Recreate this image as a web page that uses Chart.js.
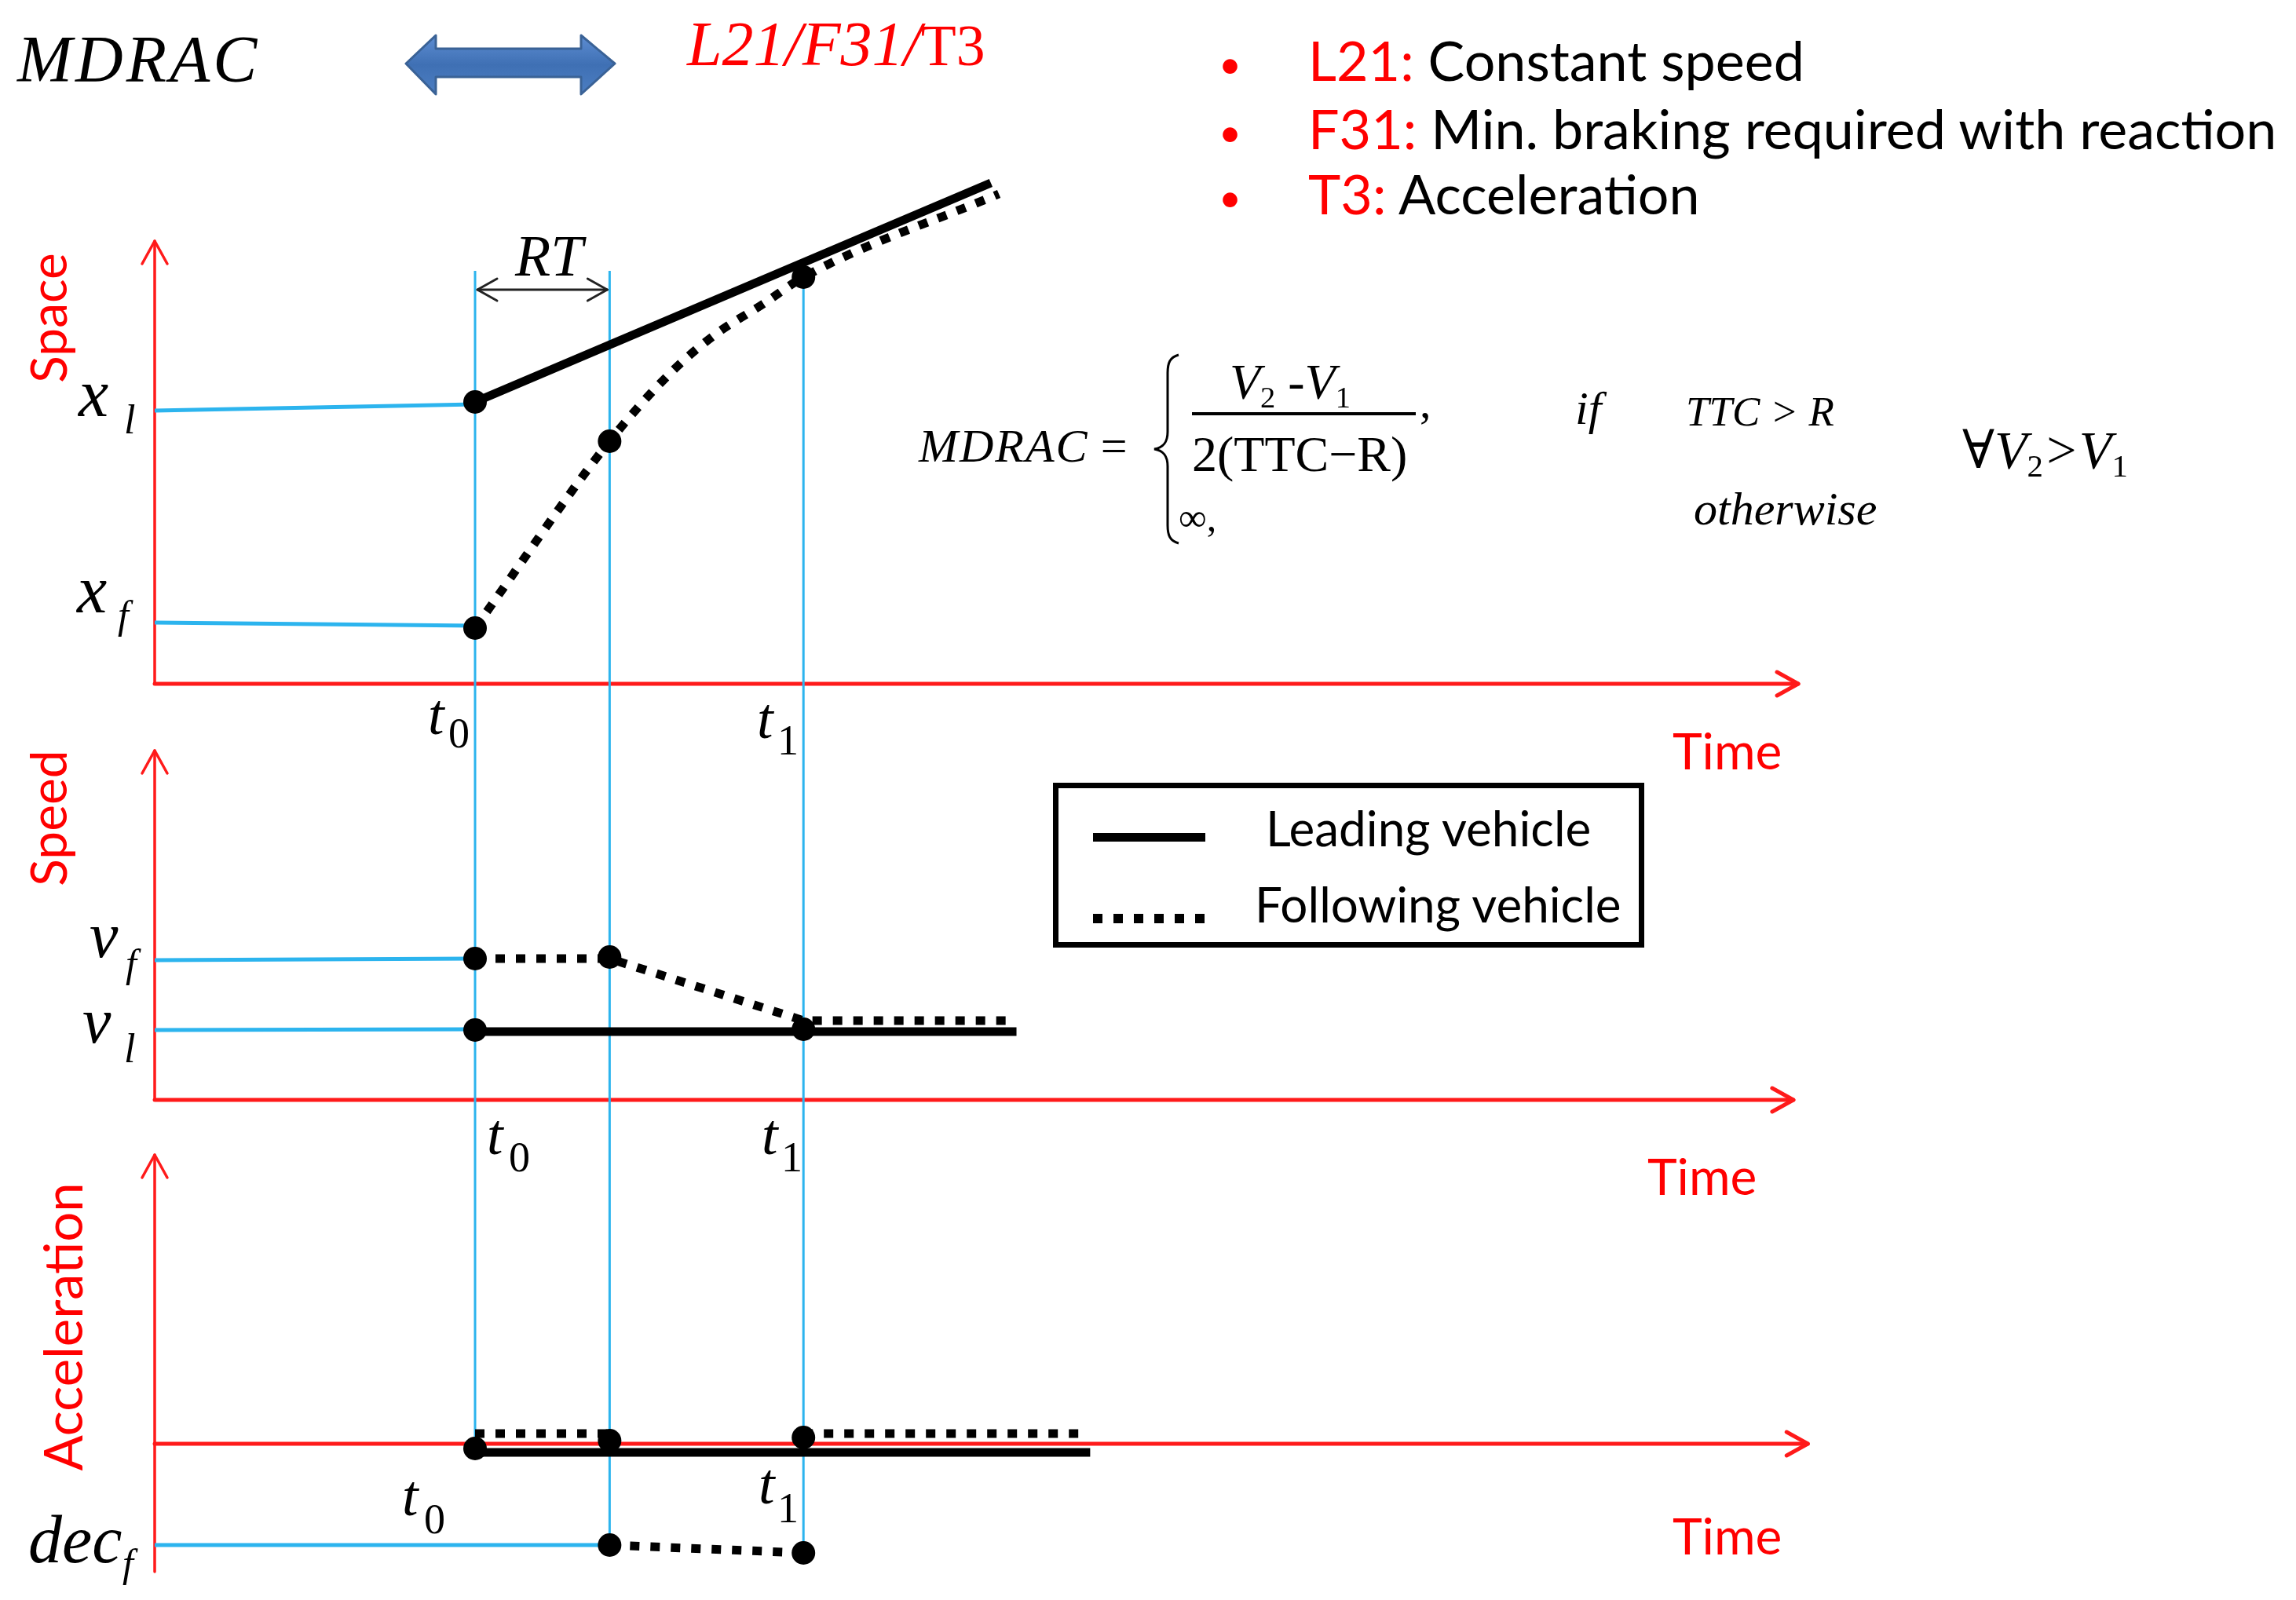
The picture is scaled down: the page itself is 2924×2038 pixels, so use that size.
<!DOCTYPE html>
<html lang="en">
<head>
<meta charset="UTF-8" />
<title>MDRAC - L21/F31/T3</title>
<script src="https://cdn.jsdelivr.net/npm/chart.js"></script>
<style>
  html, body { margin: 0; padding: 0; background: #fff; }
  #wrap { position: relative; width: 2924px; height: 2038px; overflow: hidden; }
  #chart { position: absolute; left: 0; top: 0; }
  #over { position: absolute; left: 0; top: 0; pointer-events: none; }
  .lbl { position: absolute; white-space: nowrap; line-height: 1; color: #000; }
  .probe { display: inline-block; width: 0; height: 0; }
  .m { font-family: 'Liberation Serif', 'DejaVu Serif', serif; font-style: italic; }
  .up { font-style: normal; }
  .s { font-family: Lato, 'Open Sans', sans-serif; }
  .red { color: #ff0000; }
  .sub { font-size: 0.6em; font-style: normal; vertical-align: -0.28em; }
  .rot { position: absolute; transform: translate(-50%, -50%) rotate(-90deg); white-space: nowrap;
         line-height: 1; font-family: Lato, 'Open Sans', sans-serif; color: #ff0000; }
  #legend { position: absolute; left: 1341px; top: 997px; width: 753px; height: 210px;
            box-sizing: border-box; border: 7px solid #000; }
  .sample { position: absolute; left: 1392px; width: 143px; }
</style>
</head>
<body>
<div id="wrap">
  <canvas id="chart" width="2924" height="2038"></canvas>
  <svg id="over" width="2924" height="2038">
    <defs>
      <linearGradient id="blue" x1="0" y1="0" x2="0" y2="1">
        <stop offset="0" stop-color="#5d8dd2" />
        <stop offset="0.5" stop-color="#3f70b4" />
        <stop offset="1" stop-color="#4c7ec2" />
      </linearGradient>
    </defs>
    <polygon points="517,81 555,45 555,62 740,62 740,45 783,81 740,120 740,98 555,98 555,120"
             fill="url(#blue)" stroke="#3a6296" stroke-width="3" stroke-linejoin="round" />
    <path d="M1501,452 C1490,455 1487,462 1487,475 L1487,550 C1487,563 1482,570 1470,572
             C1482,574 1487,581 1487,594 L1487,669 C1487,682 1490,689 1501,692"
          fill="none" stroke="#000" stroke-width="3" />
    <rect x="1518" y="525" width="285" height="4" fill="#000" />
  </svg>
  <div id="legend"></div>
  <div class="sample" style="top:1061px;height:11px;background:#000;"></div>
  <div class="sample" style="top:1164px;height:12px;background:repeating-linear-gradient(90deg,#000 0 12px,transparent 12px 26px);"></div>
</div>

<script>
  // event times (s): reaction starts at T0, braking starts at TR, speeds equal at T1
  const T0 = 2.0, TR = 2.84, T1 = 4.05;

  // space panel
  const spaceLeadT = [T0, 5.22];
  const spaceLeadX = [35.9, 63.8];
  const spaceFollowT = [T0, TR, 3.23, 3.50, 3.80, T1, 5.27];
  const spaceFollowX = [7.1, 30.9, 39.8, 44.5, 48.4, 51.8, 62.4];
  const spaceDotT = [T0, T0, TR, T1];
  const spaceDotX = [35.9, 7.1, 30.9, 51.8];

  // speed panel
  const speedLeadT = [T0, 5.38];
  const speedLeadV = [8.7, 8.7];
  const speedFollowT = [T0, TR, T1, 5.37];
  const speedFollowV = [18.0, 18.0, 10.1, 10.1];
  const speedDotT = [T0, TR, T0, T1];
  const speedDotV = [18.0, 18.2, 8.9, 9.0];

  // acceleration panel (null = break in the line)
  const accLeadT = [T0, 5.84];
  const accLeadA = [-1.1, -1.1];
  const accFollowT = [T0, TR, TR, TR, T1, T1, T1, 5.80];
  const accFollowA = [1.3, 1.3, null, -12.9, -13.9, null, 1.3, 1.3];
  const accDotT = [T0, TR, T1, TR, T1];
  const accDotA = [-0.6, 0.4, 0.8, -12.9, -13.9];

  // cyan reference levels: x_l, x_f / v_f, v_l / dec_f  (value at t=0, value at end, end time)
  const spaceRefs = [[34.8, 35.6, T0], [7.8, 7.4, T0]];
  const speedRefs = [[17.8, 18.0, T0], [8.9, 9.0, T0]];
  const accRefs = [[-12.9, -12.9, TR]];

  // vertical guides: time, top (space units), bottom (acceleration units)
  const guides = [[T0, 52.6, -0.6], [TR, 52.6, -12.9], [T1, 51.8, -13.9]];

  // ---- layout of the single canvas ----
  const W = 2924, H = 2038;
  const UNIT = 10;                     // px per value unit, all panels
  const X0 = 197, XU = 204;            // px of t=0, px per second
  const zero = { ySpace: 871, ySpeed: 1401, yAcc: 1839 };
  const yScale = id => ({ type: 'linear', display: false, position: 'left',
                          min: -(H - zero[id]) / UNIT, max: zero[id] / UNIT });

  const panels = [
    { y: 'ySpace', tip: 56.4, base: 0, tEnd: 10.26 },
    { y: 'ySpeed', tip: 44.5, base: 0, tEnd: 10.23 },
    { y: 'yAcc', tip: 36.8, base: -16.3, tEnd: 10.32 }
  ];

  const RED = '#ff1a1a', CYAN = '#2cb4ee';

  const pts = (ts, vs) => ts.map((t, i) => ({ x: t, y: vs[i] }));
  const solid = (ts, vs, y) => ({ data: pts(ts, vs), yAxisID: y, borderColor: '#000', borderWidth: 11,
                                  pointRadius: 0, order: 1 });
  const dotted = (ts, vs, y) => ({ data: pts(ts, vs), yAxisID: y, borderColor: '#000', borderWidth: 11,
                                   borderDash: [12, 14], borderCapStyle: 'butt', pointRadius: 0, order: 1 });
  const dots = (ts, vs, y) => ({ data: pts(ts, vs), yAxisID: y, showLine: false, pointRadius: 15,
                                 pointBackgroundColor: '#000', pointBorderWidth: 0, order: 0 });
  const refs = (list, y) => list.map(r => ({ data: [{ x: 0, y: r[0] }, { x: r[2], y: r[1] }], yAxisID: y,
                                            borderColor: CYAN, borderWidth: 5, pointRadius: 0, order: 2 }));

  const spaceFollow = dotted(spaceFollowT, spaceFollowX, 'ySpace');
  spaceFollow.cubicInterpolationMode = 'monotone';

  function chevron(ctx, x, y, dx, dy, back, spread) {
    // open arrow head at (x,y) pointing along (dx,dy)
    const nx = -dy, ny = dx;
    ctx.beginPath();
    ctx.moveTo(x - dx * back + nx * spread, y - dy * back + ny * spread);
    ctx.lineTo(x, y);
    ctx.lineTo(x - dx * back - nx * spread, y - dy * back - ny * spread);
    ctx.stroke();
  }

  const diagram = {
    id: 'diagram',
    beforeDatasetsDraw(chart) {
      const { ctx, scales } = chart;
      const sx = scales.x;
      ctx.save();
      ctx.lineCap = 'round';
      ctx.lineJoin = 'round';
      ctx.strokeStyle = RED;
      panels.forEach(p => {
        const sy = scales[p.y];
        const x0 = sx.getPixelForValue(0);
        const yb = sy.getPixelForValue(p.base), yt = sy.getPixelForValue(p.tip);
        const yz = sy.getPixelForValue(0), xe = sx.getPixelForValue(p.tEnd);
        ctx.lineWidth = 3.5;
        ctx.beginPath(); ctx.moveTo(x0, yb); ctx.lineTo(x0, yt); ctx.stroke();
        chevron(ctx, x0, yt, 0, -1, 29, 16);
        ctx.lineWidth = 5;
        ctx.beginPath(); ctx.moveTo(x0, yz); ctx.lineTo(xe, yz); ctx.stroke();
        chevron(ctx, xe, yz, 1, 0, 27, 15);
      });
      ctx.strokeStyle = CYAN;
      ctx.lineWidth = 3;
      ctx.lineCap = 'butt';
      guides.forEach(g => {
        const px = sx.getPixelForValue(g[0]);
        ctx.beginPath();
        ctx.moveTo(px, scales.ySpace.getPixelForValue(g[1]));
        ctx.lineTo(px, scales.yAcc.getPixelForValue(g[2]));
        ctx.stroke();
      });
      // RT double arrow
      const yr = scales.ySpace.getPixelForValue(50.2);
      const xa = sx.getPixelForValue(T0) + 3, xb = sx.getPixelForValue(TR) - 3;
      ctx.strokeStyle = '#222';
      ctx.lineWidth = 3;
      ctx.lineCap = 'round';
      ctx.beginPath(); ctx.moveTo(xa, yr); ctx.lineTo(xb, yr); ctx.stroke();
      chevron(ctx, xa, yr, -1, 0, 25, 14);
      chevron(ctx, xb, yr, 1, 0, 25, 14);
      ctx.restore();
    }
  };

  new Chart(document.getElementById('chart'), {
    type: 'line',
    data: {
      datasets: [
        dots(spaceDotT, spaceDotX, 'ySpace'),
        dots(speedDotT, speedDotV, 'ySpeed'),
        dots(accDotT, accDotA, 'yAcc'),
        solid(spaceLeadT, spaceLeadX, 'ySpace'),
        spaceFollow,
        solid(speedLeadT, speedLeadV, 'ySpeed'),
        dotted(speedFollowT, speedFollowV, 'ySpeed'),
        solid(accLeadT, accLeadA, 'yAcc'),
        dotted(accFollowT, accFollowA, 'yAcc'),
        ...refs(spaceRefs, 'ySpace'),
        ...refs(speedRefs, 'ySpeed'),
        ...refs(accRefs, 'yAcc')
      ]
    },
    options: {
      responsive: false,
      animation: false,
      events: [],
      spanGaps: false,
      layout: { padding: 0, autoPadding: false },
      plugins: { legend: { display: false }, tooltip: { enabled: false } },
      scales: {
        x: { type: 'linear', display: false, min: -X0 / XU, max: (W - X0) / XU },
        ySpace: yScale('ySpace'),
        ySpeed: yScale('ySpeed'),
        yAcc: yScale('yAcc')
      }
    },
    plugins: [diagram]
  });

  // ---- text, placed by baseline ----
  const wrap = document.getElementById('wrap');
  function put(html, left, base, cls, size) {
    const el = document.createElement('div');
    el.className = 'lbl ' + cls;
    el.style.fontSize = size + 'px';
    el.style.left = left + 'px';
    el.style.top = '0px';
    el.innerHTML = html + '<i class="probe"></i>';
    wrap.appendChild(el);
    el.style.top = (base - el.querySelector('.probe').offsetTop) + 'px';
  }
  function rot(text, cx, cy, size) {
    const el = document.createElement('div');
    el.className = 'rot';
    el.style.fontSize = size + 'px';
    el.style.left = cx + 'px';
    el.style.top = cy + 'px';
    el.textContent = text;
    wrap.appendChild(el);
  }

  const texts = [
    ['<span style="letter-spacing:4px">MDRAC</span>', 22, 104, 'm', 84],
    ['L21/F31/<span class="up" style="font-size:0.92em">T3</span>', 875, 83, 'm red', 80],
    ['<span class="red">L21:</span> Constant speed', 1666, 103, 's', 70],
    ['<span class="red">F31:</span> Min. braking required with reaction', 1666, 190, 's', 70],
    ['<span class="red">T3:</span> Acceleration', 1666, 273, 's', 70],
    ['•', 1552, 100, 's red', 50],
    ['•', 1552, 187, 's red', 50],
    ['•', 1552, 270, 's red', 50],
    // formula
    ['<span style="letter-spacing:2px">MDRAC</span>&nbsp;<span class="up">=</span>', 1170, 588, 'm', 60],
    ['V<span class="sub">2</span>&nbsp;<span class="up">-</span>V<span class="sub">1</span>', 1566, 508, 'm', 64],
    ['2(TTC−R)', 1518, 600, 'm up', 64],
    [',', 1808, 532, 'm up', 58],
    ['if', 2006, 540, 'm', 60],
    ['TTC &gt; R', 2147, 542, 'm', 53],
    ['∞,', 1501, 676, 'm up', 50],
    ['otherwise', 2157, 668, 'm', 60],
    ['∀V<span class="sub">2</span>&gt;V<span class="sub">1</span>', 2499, 596, 'm', 68],
    // panel labels
    ['RT', 656, 351, 'm', 74],
    ['x', 100, 530, 'm', 86], ['l', 158, 552, 'm', 52],
    ['x', 98, 780, 'm', 86], ['f', 150, 800, 'm', 50],
    ['v', 114, 1219, 'm', 82], ['f', 160, 1244, 'm', 50],
    ['v', 105, 1328, 'm', 82], ['l', 158, 1353, 'm', 52],
    ['dec', 36, 1990, 'm', 86], ['f', 156, 2008, 'm', 50],
    ['t', 545, 935, 'm', 74], ['0', 571, 952, 'm up', 54],
    ['t', 964, 940, 'm', 74], ['1', 990, 961, 'm up', 54],
    ['t', 620, 1470, 'm', 74], ['0', 648, 1492, 'm up', 54],
    ['t', 970, 1470, 'm', 74], ['1', 995, 1492, 'm up', 54],
    ['t', 512, 1930, 'm', 74], ['0', 540, 1953, 'm up', 54],
    ['t', 966, 1915, 'm', 74], ['1', 990, 1939, 'm up', 54],
    ['Time', 2130, 980, 's red', 64],
    ['Time', 2098, 1522, 's red', 64],
    ['Time', 2130, 1980, 's red', 64],
    // legend
    ['Leading vehicle', 1612, 1078, 's', 62],
    ['Following vehicle', 1598, 1175, 's', 62]
  ];
  texts.forEach(t => put(...t));

  rot('Space', 61, 405, 64);
  rot('Speed', 61, 1042, 64);
  rot('Acceleration', 79, 1690, 67);
</script>
</body>
</html>
